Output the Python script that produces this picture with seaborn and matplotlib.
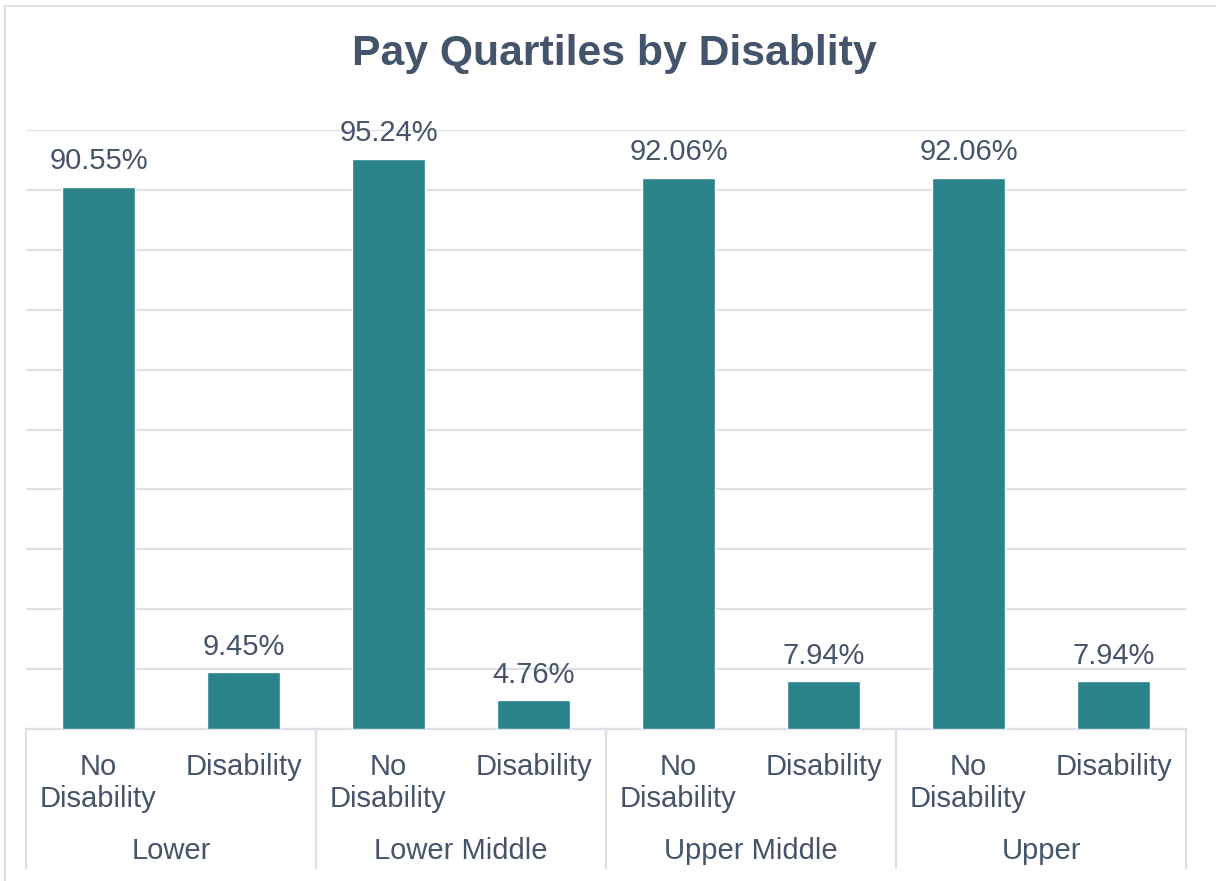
import matplotlib
matplotlib.use("Agg")
import matplotlib.pyplot as plt
import matplotlib.transforms as mtransforms
from matplotlib.lines import Line2D
import seaborn as sns
import pandas as pd

# Data
quartiles = ["Lower", "Lower Middle", "Upper Middle", "Upper"]
groups = ["No\nDisability", "Disability"]
no_disability = [90.55, 95.24, 92.06, 92.06]
disability = [9.45, 4.76, 7.94, 7.94]
value_labels = ["90.55%", "9.45%", "95.24%", "4.76%", "92.06%", "7.94%", "92.06%", "7.94%"]

rows = []
for q, nd, d in zip(quartiles, no_disability, disability):
    rows.append({"quartile": q, "group": groups[0], "value": nd})
    rows.append({"quartile": q, "group": groups[1], "value": d})
df = pd.DataFrame(rows)
df["cat"] = [f"{r.quartile}|{r.group}" for r in df.itertuples()]

sns.set_theme(style="white")
plt.rcParams["font.family"] = ["Liberation Sans", "DejaVu Sans"]

TEXT = "#44546A"
BAR = "#2A828A"
GRID = "#DDE1E7"
FS = 21

W, H = 1216, 881
fig = plt.figure(figsize=(W / 100, H / 100), dpi=100)
ax = fig.add_axes([26 / W, 1 - 729 / H, (1186 - 26) / W, (729 - 130) / H])

sns.barplot(data=df, x="cat", y="value", color=BAR, width=0.5, saturation=1,
            ax=ax, zorder=3)

ax.set_xlim(-0.5, len(df) - 0.5)
ax.set_ylim(0, 100)
ax.set_yticks(range(0, 101, 10))
ax.yaxis.grid(True, color=GRID, linewidth=1.6, zorder=0)
ax.set_axisbelow(True)
ax.tick_params(axis="y", left=False, labelleft=False)
for s in ["top", "right", "left"]:
    ax.spines[s].set_visible(False)
ax.spines["bottom"].set_color(GRID)
ax.spines["bottom"].set_linewidth(1.6)
ax.set_xlabel("")
ax.set_ylabel("")

ax.set_xticks(range(len(df)))
ax.set_xticklabels(list(df["group"]), fontsize=FS, color=TEXT,
                   linespacing=1.22, multialignment="center")
ax.tick_params(axis="x", length=0, pad=17)

# data labels
for patch, lab in zip(ax.patches, value_labels):
    ax.annotate(lab, (patch.get_x() + patch.get_width() / 2, patch.get_height()),
                xytext=(0, 8), textcoords="offset points", ha="center", va="bottom",
                fontsize=FS, color=TEXT)

# group labels and separators
trans = mtransforms.blended_transform_factory(ax.transData, ax.transAxes)
sep_bottom = -(868 - 729) / (729 - 130)
for i, q in enumerate(quartiles):
    ax.text(2 * i + 0.5, -(851 - 729) / (729 - 130), q, transform=trans,
            ha="center", va="center", fontsize=FS, color=TEXT)
for b in range(len(quartiles) + 1):
    ax.add_line(Line2D([2 * b - 0.5, 2 * b - 0.5], [0, sep_bottom], transform=trans,
                       color=GRID, linewidth=1.6, clip_on=False))

# title
fig.text(614 / W, 1 - 54 / H, "Pay Quartiles by Disablity", ha="center", va="center",
         fontsize=30.8, fontweight="bold", color=TEXT)

# outer chart border (top and left visible)
fig.add_artist(Line2D([5 / W, 5 / W], [0, 1 - 6 / H], transform=fig.transFigure,
                      color=GRID, linewidth=1.4))
fig.add_artist(Line2D([5 / W, 1], [1 - 6 / H, 1 - 6 / H], transform=fig.transFigure,
                      color=GRID, linewidth=1.4))

fig.savefig("out.png", dpi=100, facecolor="white")
